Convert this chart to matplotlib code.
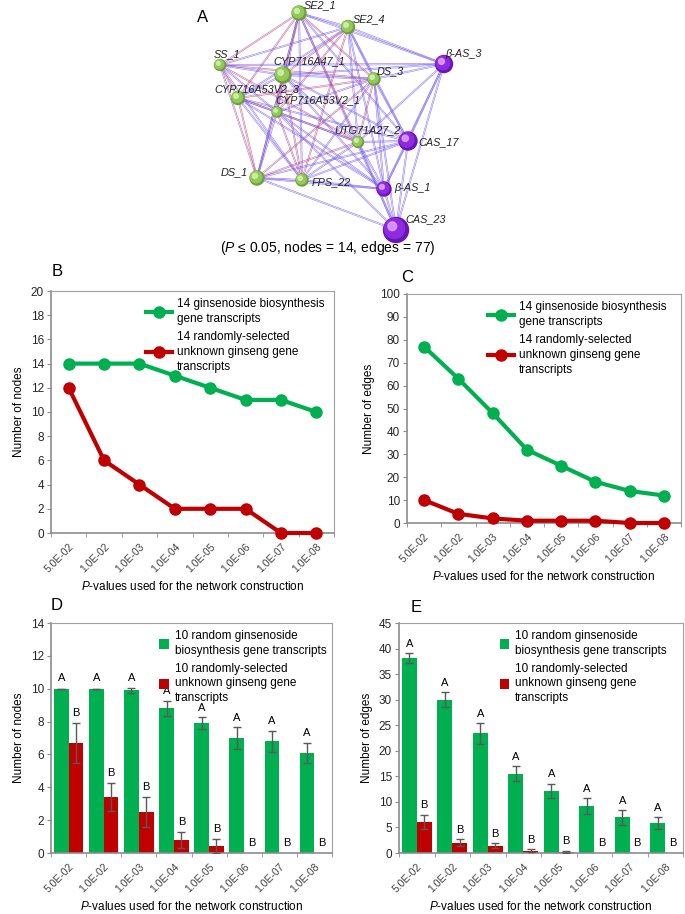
import numpy as np
import matplotlib
matplotlib.use("Agg")
import matplotlib.pyplot as plt
from matplotlib.patches import Circle

plt.rcParams['font.family'] = ['Liberation Sans', 'DejaVu Sans']
plt.rcParams['mathtext.fontset'] = 'custom'
plt.rcParams['mathtext.it'] = 'Liberation Sans:italic'
plt.rcParams['mathtext.rm'] = 'Liberation Sans'

# ---------------------------------------------------------------------------
# Data
# ---------------------------------------------------------------------------
p_labels = ['5.0E-02', '1.0E-02', '1.0E-03', '1.0E-04',
            '1.0E-05', '1.0E-06', '1.0E-07', '1.0E-08']

# B: number of nodes, 14 transcripts
nodes_gin = [14, 14, 14, 13, 12, 11, 11, 10]
nodes_rand = [12, 6, 4, 2, 2, 2, 0, 0]

# C: number of edges, 14 transcripts
edges_gin = [77, 63, 48, 32, 25, 18, 14, 12]
edges_rand = [10, 4, 2, 1, 1, 1, 0, 0]

# D: number of nodes, 10 random transcripts (mean, error)
d_gin = [10.0, 10.0, 9.9, 8.8, 7.9, 7.0, 6.8, 6.1]
d_gin_err = [0.02, 0.02, 0.17, 0.46, 0.35, 0.64, 0.65, 0.6]
d_rand = [6.7, 3.4, 2.5, 0.8, 0.4, 0, 0, 0]
d_rand_err = [1.23, 0.85, 0.9, 0.5, 0.43, 0, 0, 0]

# E: number of edges, 10 random transcripts (mean, error)
e_gin = [38.1, 30.0, 23.4, 15.5, 12.1, 9.2, 6.95, 5.8]
e_gin_err = [1.0, 1.45, 2.0, 1.5, 1.4, 1.5, 1.4, 1.15]
e_rand = [6.1, 2.0, 1.4, 0.4, 0.2, 0, 0, 0]
e_rand_err = [1.4, 0.65, 0.5, 0.3, 0.2, 0, 0, 0]

leg_gin14 = '14 ginsenoside biosynthesis\ngene transcripts'
leg_rand14 = '14 randomly-selected\nunknown ginseng gene\ntranscripts'
leg_gin10 = '10 random ginsenoside\nbiosynthesis gene transcripts'
leg_rand10 = '10 randomly-selected\nunknown ginseng gene\ntranscripts'
xlab = r'$\mathit{P}$-values used for the network construction'

# A: network (positions in picture pixels, radius in px, group)
net_nodes = ['SE2_1', 'SE2_4', 'SS_1', 'CYP716A47_1', 'DS_3', 'β-AS_3',
             'CYP716A53V2_3', 'CYP716A53V2_1', 'UTG71A27_2', 'CAS_17',
             'DS_1', 'FPS_22', 'β-AS_1', 'CAS_23']
net_x = [299, 348, 220, 283, 374, 444, 238, 277, 358, 408, 257, 302, 384, 396]
net_y = [13, 27, 65, 75, 79, 64, 98, 112, 142, 141, 178, 180, 189, 230]
net_r = [7, 6.5, 5.5, 8, 6, 8.5, 6.5, 5, 5.5, 9, 7, 6, 7, 12.5]
net_grp = ['g', 'g', 'g', 'g', 'g', 'p', 'g', 'g', 'g', 'p', 'g', 'g', 'p', 'p']
# label offsets (dx, dy, ha)
net_lab = [(5, -8, 'left'), (5, -8, 'left'), (-6, -11, 'left'), (-10, -14, 'left'),
           (3, -8, 'left'), (1, -10, 'left'), (-24, -9, 'left'), (-2, -12, 'left'),
           (-24, -12, 'left'), (10, 1, 'left'), (-9, -6, 'right'), (10, 2, 'left'),
           (10, -1, 'left'), (9, -11, 'left')]
# 91 possible pairs, 77 present -> list the 14 absent ones
net_missing = [(5, 10), (5, 11), (5, 6), (5, 7), (13, 2), (13, 6), (13, 3),
               (13, 1), (9, 2), (12, 2), (12, 0), (13, 11), (9, 7), (10, 1)]

GREEN = '#00B050'
RED = '#C00000'
SPINE = '#8C8C8C'

fig = plt.figure(figsize=(6.85, 9.14), dpi=100)
W, H = 685, 914


def frac(l, t, r, b):
    return [l / W, 1 - b / H, (r - l) / W, (b - t) / H]


# ---------------------------------------------------------------------------
# A: network
# ---------------------------------------------------------------------------
axn = fig.add_axes([0, 1 - 252 / H, 1, 252 / H])
axn.set_xlim(0, W)
axn.set_ylim(252, 0)
axn.axis('off')

missing = set(tuple(sorted(p)) for p in net_missing)
n = len(net_nodes)
for i in range(n):
    for j in range(i + 1, n):
        if (i, j) in missing:
            continue
        x0, y0, x1, y1 = net_x[i], net_y[i], net_x[j], net_y[j]
        d = np.hypot(x1 - x0, y1 - y0)
        ox, oy = -(y1 - y0) / d * 0.6, (x1 - x0) / d * 0.6
        both_green = net_grp[i] == 'g' and net_grp[j] == 'g'
        c2 = '#FF3A3A' if both_green and (i + j) % 2 == 0 else '#8A5AF0'
        axn.plot([x0 + ox, x1 + ox], [y0 + oy, y1 + oy], color='#5050F5',
                 lw=0.4, alpha=0.7, zorder=1)
        axn.plot([x0 - ox, x1 - ox], [y0 - oy, y1 - oy], color=c2,
                 lw=0.45, alpha=0.8, zorder=1)

for k in range(n):
    if net_grp[k] == 'g':
        base, mid, hi = '#6E9F3A', '#93C95A', '#D8F2B0'
    else:
        base, mid, hi = '#6A14B8', '#8E2BE0', '#E6A8FF'
    r = net_r[k]
    axn.add_patch(Circle((net_x[k], net_y[k]), r, color=base, zorder=3))
    axn.add_patch(Circle((net_x[k] - r * 0.12, net_y[k] - r * 0.12), r * 0.8,
                         color=mid, zorder=4))
    axn.add_patch(Circle((net_x[k] - r * 0.3, net_y[k] - r * 0.3), r * 0.35,
                         color=hi, alpha=0.8, zorder=5))
    dx, dy, ha = net_lab[k]
    axn.text(net_x[k] + dx, net_y[k] + dy, net_nodes[k], fontsize=7.8,
             style='italic', ha=ha, va='center', color='#222222', zorder=6)

fig.text(203 / W, 1 - 18 / H, 'A', fontsize=12, ha='center', va='center')
fig.text(328 / W, 1 - 248 / H,
         r'($\mathit{P}$ ≤ 0.05, nodes = 14, edges = 77)',
         fontsize=10, ha='center', va='center')


# ---------------------------------------------------------------------------
# helpers
# ---------------------------------------------------------------------------
def style_axes(ax, ymax, ystep, ylabel):
    x = np.arange(len(p_labels))
    ax.set_xlim(-0.5, len(p_labels) - 0.5)
    ax.set_ylim(0, ymax)
    ax.set_yticks(np.arange(0, ymax + 0.1, ystep))
    ax.set_xticks(x)
    ax.set_xticklabels(p_labels, rotation=45, ha='right',
                       rotation_mode='anchor', fontsize=7.5, color='#404040')
    ax.set_xticks(np.arange(-0.5, len(p_labels), 1), minor=True)
    ax.tick_params(axis='x', which='major', length=0, pad=6)
    ax.tick_params(axis='x', which='minor', length=3, color=SPINE, direction='out')
    ax.tick_params(axis='y', length=3, color=SPINE, labelsize=8.5,
                   labelcolor='#262626', pad=2)
    for s in ['left', 'bottom']:
        ax.spines[s].set_color(SPINE)
        ax.spines[s].set_linewidth(1.2)
    for s in ['top', 'right']:
        ax.spines[s].set_color('#A0A0A0')
        ax.spines[s].set_linewidth(0.8)
    ax.set_ylabel(ylabel, fontsize=8.5)
    ax.set_xlabel(xlab, fontsize=8.5)


def spread_legend(leg):
    for t in leg.get_texts():
        t.set_linespacing(1.3)


def line_panel(ax, g, r, ymax, ystep, ylabel, lx):
    x = np.arange(len(p_labels))
    ax.plot(x, g, '-o', color=GREEN, lw=3, ms=8, label=leg_gin14, clip_on=False, zorder=3)
    ax.plot(x, r, '-o', color=RED, lw=3, ms=8, label=leg_rand14, clip_on=False, zorder=3)
    style_axes(ax, ymax, ystep, ylabel)
    leg = ax.legend(loc='upper left', bbox_to_anchor=(lx, 1.0), frameon=False,
                    fontsize=8.5, handlelength=2.2, labelspacing=0.55,
                    handletextpad=0.4, borderaxespad=0.2)
    spread_legend(leg)


def bar_panel(ax, g, ge, r, re, ymax, ystep, ylabel, off, lx):
    x = np.arange(len(p_labels))
    w = 0.42
    ax.bar(x - w / 2, g, w, color=GREEN, label=leg_gin10, zorder=2)
    ax.bar(x + w / 2, r, w, color=RED, label=leg_rand10, zorder=2)
    ge_plot = [v if v > 0.05 else 0 for v in ge]
    ax.errorbar(x - w / 2, g, yerr=ge_plot, fmt='none', ecolor='#595959',
                elinewidth=1, capsize=3, capthick=1, zorder=3)
    re_idx = [i for i in range(len(r)) if r[i] > 0]
    ax.errorbar(x[re_idx] + w / 2, [r[i] for i in re_idx],
                yerr=[re[i] for i in re_idx], fmt='none', ecolor='#595959',
                elinewidth=1, capsize=3, capthick=1, zorder=3)
    for i in range(len(x)):
        ax.text(x[i] - w / 2, g[i] + ge[i] + off, 'A', ha='center', va='bottom',
                fontsize=8)
        ax.text(x[i] + w / 2, r[i] + re[i] + off, 'B', ha='center', va='bottom',
                fontsize=8)
    style_axes(ax, ymax, ystep, ylabel)
    leg = ax.legend(loc='upper left', bbox_to_anchor=(lx, 1.0), frameon=False,
                    fontsize=8.5, handlelength=0.8, handleheight=0.9,
                    labelspacing=0.5, handletextpad=0.5, borderaxespad=0.2)
    spread_legend(leg)


axB = fig.add_axes(frac(51, 291, 334, 533))
line_panel(axB, nodes_gin, nodes_rand, 20, 2, 'Number of nodes', 0.31)
axC = fig.add_axes(frac(407, 294, 681, 523))
line_panel(axC, edges_gin, edges_rand, 100, 10, 'Number of edges', 0.27)
axD = fig.add_axes(frac(51, 623, 332, 853))
bar_panel(axD, d_gin, d_gin_err, d_rand, d_rand_err, 14, 2, 'Number of nodes', 0.3, 0.36)
axE = fig.add_axes(frac(399, 623, 683, 853))
bar_panel(axE, e_gin, e_gin_err, e_rand, e_rand_err, 45, 5, 'Number of edges', 0.9, 0.33)

for lab, px, py in [('B', 57, 271), ('C', 407, 277), ('D', 57, 606), ('E', 416, 608)]:
    fig.text(px / W, 1 - py / H, lab, fontsize=12, ha='center', va='center')

fig.savefig('out.png', dpi=100)
